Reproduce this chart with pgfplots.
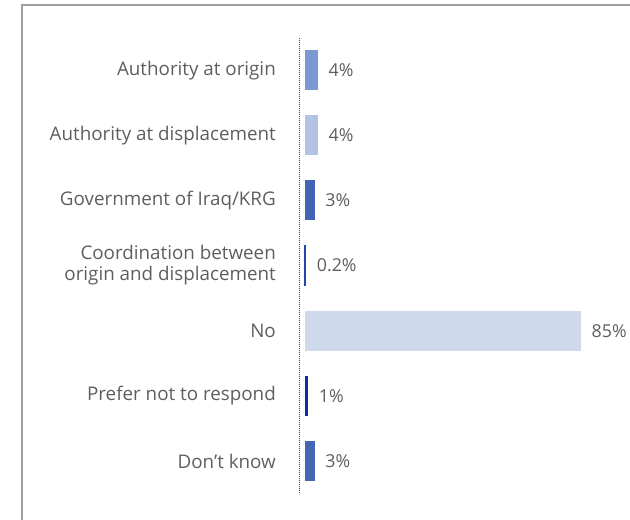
\documentclass[border=0pt]{standalone}
\usepackage{pgfplots}
\pgfplotsset{compat=1.18}
\usetikzlibrary{calc}
\usepackage{fontspec}
\setmainfont{Open Sans}
\definecolor{txt}{HTML}{5E5E5E}
\definecolor{cA}{HTML}{7B98D2}
\definecolor{cB}{HTML}{B3C3E5}
\definecolor{cC}{HTML}{4264B4}
\definecolor{cD}{HTML}{2545AA}
\definecolor{cE}{HTML}{CED9EC}
\definecolor{cF}{HTML}{0B2FA0}
\definecolor{cG}{HTML}{4466B4}
\begin{document}
\begin{tikzpicture}
\begin{axis}[
  scale only axis, width=282pt, height=456pt,
  xmin=-1.85, xmax=85, ymin=-0.5, ymax=6.5,
  y dir=reverse,
  xbar, bar shift=0pt, bar width=40pt,
  axis x line=none,
  axis y line*=left,
  y axis line style={black!75, line width=0.8pt, dash pattern=on 0.8pt off 1.2pt},
  ytick={0,...,6},
  yticklabels={Authority at origin, Authority at displacement, Government of Iraq/KRG, {Coordination between\\origin and displacement}, No, Prefer not to respond, Don’t know},
  major tick length=0pt,
  yticklabel style={align=right, inner sep=0pt, xshift=-23pt, font=\fontsize{18.8}{21}\selectfont, text=txt},
  /pgf/number format/assume math mode=true,
  nodes near coords={\pgfmathprintnumber{\pgfplotspointmeta}\%},
  point meta=x,
  every node near coord/.append style={anchor=west, inner sep=0pt, xshift=10.5pt, font=\fontsize{17.8}{20}\selectfont, text=txt},
  clip=false,
]
\addplot[fill=cA, draw=none] coordinates {(4,0)};
\addplot[fill=cB, draw=none] coordinates {(4,1)};
\addplot[fill=cC, draw=none] coordinates {(3,2)};
\addplot[fill=cD, draw=cD, line width=1.4pt] coordinates {(0.2,3)};
\addplot[fill=cE, draw=none] coordinates {(85,4)};
\addplot[fill=cF, draw=none] coordinates {(1,5)};
\addplot[fill=cG, draw=none] coordinates {(3,6)};
\coordinate (TL) at (axis cs:-1.85,-0.5);
\end{axis}
\coordinate (P) at ($(TL)+(-299pt,37.6pt)$);
\useasboundingbox (P) rectangle ($(P)+(630pt,-520pt)$);
\draw[color=gray!75, line width=1.2pt] ($(P)+(22pt,-520pt)$) -- ($(P)+(22pt,-5pt)$) -- ($(P)+(630pt,-5pt)$);
\end{tikzpicture}
\end{document}
